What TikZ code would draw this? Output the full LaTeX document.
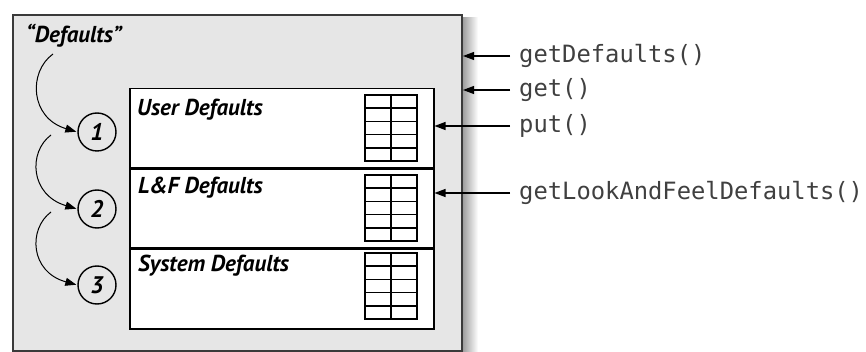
\documentclass[tikz,border=0pt]{standalone}
\usepackage{fontspec}
\setmainfont{PT Sans}
\newfontfamily\codefont{DejaVu Sans Mono}
\usetikzlibrary{arrows.meta}
\definecolor{boxgray}{HTML}{E6E6E6}
\definecolor{edgegray}{HTML}{3A3A3A}
\tikzset{
  arr/.style={-{Triangle[length=11pt,width=8pt]}, line width=1.1pt, black},
  curvarr/.style={-{Triangle[length=11pt,width=8pt]}, line width=1pt, black},
  lbl/.style={anchor=base west, inner sep=0pt, font=\fontsize{23}{24}\selectfont\bfseries\itshape},
  code/.style={anchor=west, inner sep=0pt, font=\fontsize{23.8}{24}\selectfont\codefont, text=black!75},
  section/.style={draw=black, line width=1.5pt, fill=white, minimum width=304pt, minimum height=79pt, anchor=north west, inner sep=0pt},
  numcirc/.style={circle, draw=black, line width=1.4pt, minimum size=38pt, inner sep=0pt, font=\fontsize{24}{24}\selectfont\bfseries\itshape},
  tbl/.style={line width=1.7pt, black}
}
\begin{document}
\begin{tikzpicture}[x=1pt,y=-1pt]
\useasboundingbox (0,0) rectangle (866,352);
% shadow of the outer box
\shade[left color=black!40, right color=white] (462,18) rectangle (478,352);
\node[draw=edgegray, fill=boxgray, line width=2pt, minimum width=449pt, minimum height=336pt, anchor=north west, inner sep=0pt] (outer) at (12,14) {};
% three sections
\node[section] (user) at (129,88) {};
\node[section, anchor=north] (lf) at (user.south) {};
\node[section, anchor=north] (sys) at (lf.south) {};
% tables
\foreach \t in {95,175,253}{
  \draw[tbl] (365,\t) rectangle (417,\t+66);
  \draw[tbl] (391,\t) -- (391,\t+66);
  \foreach \k in {1,...,4}{
    \draw[tbl] (365,\t+13.2*\k) -- (417,\t+13.2*\k);
  }
}
% labels
\node[lbl] (ulbl) at (137,116) {User Defaults};
\node[lbl] (llbl) at (138,194) {L\&F Defaults};
\node[lbl] (slbl) at (138,272) {System Defaults};
\node[lbl] (dflt) at (26,43) {“Defaults”};
% numbered circles
\node[numcirc] (c1) at (97,132) {1};
\node[numcirc] (c2) at (97,209) {2};
\node[numcirc] (c3) at (97,285) {3};
% curved arrows
\coordinate (s1) at (53,54);
\coordinate (s2) at (51,135);
\coordinate (s3) at (51,212);
\draw[curvarr, shorten >=1pt] (s1) .. controls (28,72) and (30,118) .. (c1.west);
\draw[curvarr, shorten >=1pt] (s2) .. controls (28,152) and (30,195) .. (c2.west);
\draw[curvarr, shorten >=1pt] (s3) .. controls (28,229) and (30,272) .. (c3.west);
% method names
\node[code] (gd) at (519,56) {getDefaults()};
\node[code] (g) at (519,90) {get()};
\node[code] (p) at (519,126) {put()};
\node[code] (glf) at (519,193) {getLookAndFeelDefaults()};
\draw[arr] ([xshift=-9pt]gd.west) -- (outer.east |- gd.west);
\draw[arr] ([xshift=-9pt]g.west) -- (outer.east |- g.west);
\draw[arr] ([xshift=-9pt]p.west) -- (user.east |- p.west);
\draw[arr] ([xshift=-9pt]glf.west) -- (lf.east |- glf.west);
\end{tikzpicture}
\end{document}
